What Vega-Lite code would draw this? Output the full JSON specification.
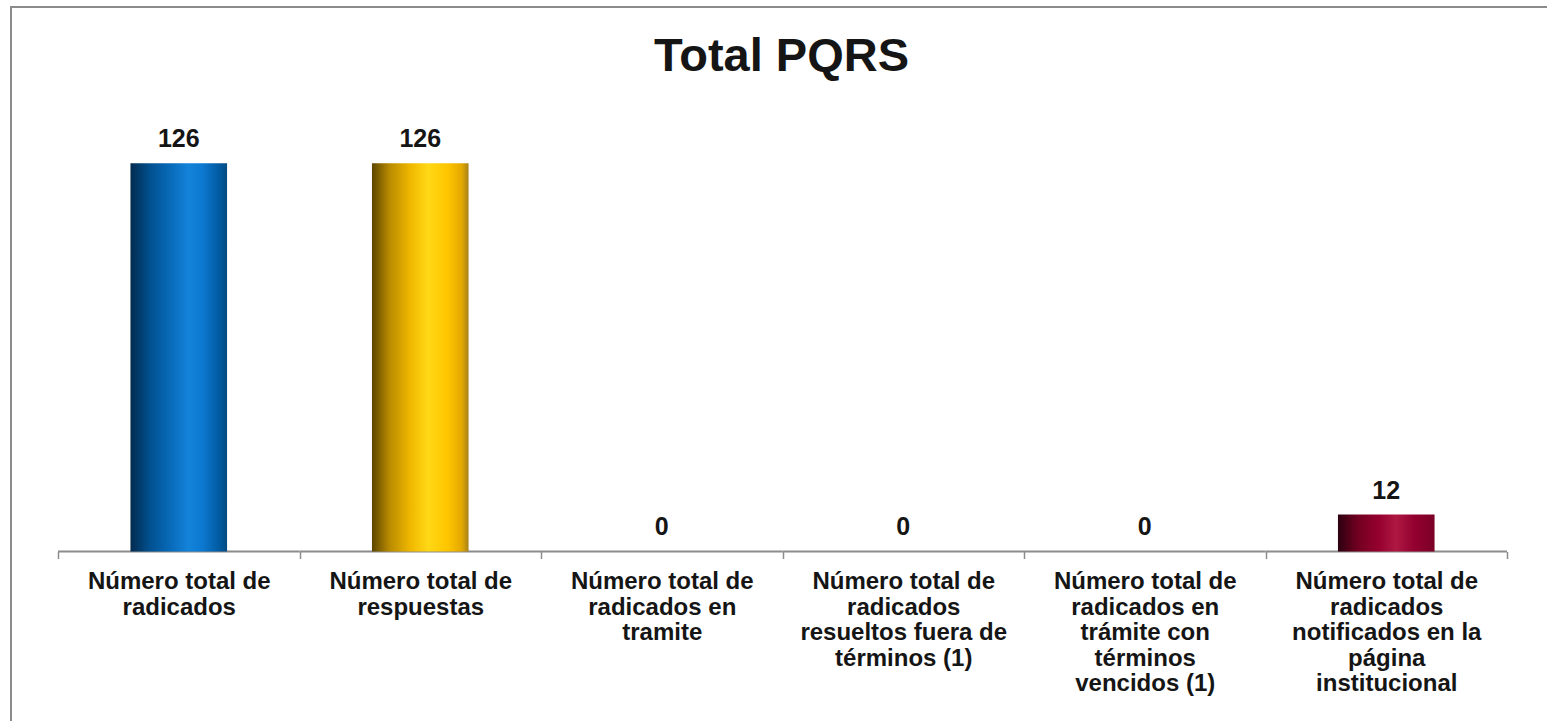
{
  "$schema": "https://vega.github.io/schema/vega-lite/v6.json",
  "autosize": {"type": "none"},
  "width": 1541,
  "height": 720,
  "padding": {"left": 11, "top": 7, "right": -5, "bottom": -6},
  "background": "white",
  "config": {
    "view": {"stroke": "#8c8c8c", "strokeWidth": 2},
    "font": "Liberation Sans"
  },
  "title": {
    "text": "Total PQRS",
    "font": "Liberation Sans",
    "fontSize": 47,
    "fontWeight": "bold",
    "color": "#151515",
    "anchor": "middle",
    "frame": "group",
    "baseline": "alphabetic",
    "offset": -111,
    "dx": 0
  },
  "data": {
    "values": [
      {"categoria": "Número total de|radicados", "valor": 126, "grupo": "azul"},
      {"categoria": "Número total de|respuestas", "valor": 126, "grupo": "amarillo"},
      {"categoria": "Número total de|radicados en|tramite", "valor": 0, "grupo": "ninguno"},
      {"categoria": "Número total de|radicados|resueltos fuera de|términos (1)", "valor": 0, "grupo": "ninguno"},
      {"categoria": "Número total de|radicados en|trámite con|términos|vencidos (1)", "valor": 0, "grupo": "ninguno"},
      {"categoria": "Número total de|radicados|notificados en la|página|institucional", "valor": 12, "grupo": "rojo"}
    ]
  },
  "encoding": {
    "x": {
      "field": "categoria",
      "type": "nominal",
      "sort": null,
      "scale": {"paddingInner": 0, "paddingOuter": 0.1905, "align": 0.511},
      "axis": {
        "orient": "bottom",
        "offset": -175.5,
        "title": null,
        "domain": false,
        "tickBand": "extent",
        "ticks": true,
        "tickSize": 7,
        "tickColor": "#8c8c8c",
        "tickWidth": 1.5,
        "labelAngle": 0,
        "labelExpr": "split(datum.label, '|')",
        "labelFont": "Liberation Sans",
        "labelFontWeight": "bold",
        "labelFontSize": 24,
        "labelLineHeight": 25.5,
        "labelColor": "#151515",
        "labelPadding": 11,
        "labelLimit": 400,
        "labelOverlap": false,
        "labelBound": false,
        "labelFlush": false,
        "grid": false
      }
    },
    "y": {
      "field": "valor",
      "type": "quantitative",
      "scale": {"domain": [-56.96, 176.7], "nice": false, "zero": false},
      "axis": null
    }
  },
  "layer": [
    {
      "mark": {"type": "rule", "color": "#8c8c8c", "strokeWidth": 2},
      "encoding": {
        "x": {"field": "categoria", "type": "nominal", "sort": null, "bandPosition": 0},
        "x2": {"field": "categoria", "bandPosition": 1},
        "y": {"datum": 0}
      }
    },
    {
      "transform": [{"filter": "datum.grupo === 'azul'"}],
      "mark": {
        "type": "bar",
        "width": {"band": 0.4},
        "color": {
          "gradient": "linear", "x1": 0, "x2": 1, "y1": 0, "y2": 0,
          "stops": [
            {"offset": 0, "color": "#032a4e"},
            {"offset": 0.2, "color": "#00508f"},
            {"offset": 0.45, "color": "#0a6fc0"},
            {"offset": 0.6, "color": "#1383da"},
            {"offset": 0.75, "color": "#0c78cf"},
            {"offset": 0.92, "color": "#025aa0"},
            {"offset": 1, "color": "#044a80"}
          ]
        }
      },
      "encoding": {"y2": {"datum": 0}}
    },
    {
      "transform": [{"filter": "datum.grupo === 'amarillo'"}],
      "mark": {
        "type": "bar",
        "width": {"band": 0.4},
        "color": {
          "gradient": "linear", "x1": 0, "x2": 1, "y1": 0, "y2": 0,
          "stops": [
            {"offset": 0, "color": "#5c4500"},
            {"offset": 0.18, "color": "#b88a00"},
            {"offset": 0.4, "color": "#f0b800"},
            {"offset": 0.58, "color": "#ffd816"},
            {"offset": 0.78, "color": "#ffc600"},
            {"offset": 0.93, "color": "#e3a800"},
            {"offset": 1, "color": "#a8821a"}
          ]
        }
      },
      "encoding": {"y2": {"datum": 0}}
    },
    {
      "transform": [{"filter": "datum.grupo === 'rojo'"}],
      "mark": {
        "type": "bar",
        "width": {"band": 0.4},
        "color": {
          "gradient": "linear", "x1": 0, "x2": 1, "y1": 0, "y2": 0,
          "stops": [
            {"offset": 0, "color": "#2c0010"},
            {"offset": 0.2, "color": "#700020"},
            {"offset": 0.42, "color": "#96002e"},
            {"offset": 0.6, "color": "#ae1842"},
            {"offset": 0.8, "color": "#920030"},
            {"offset": 1, "color": "#7a0026"}
          ]
        }
      },
      "encoding": {"y2": {"datum": 0}}
    },
    {
      "mark": {
        "type": "text",
        "font": "Liberation Sans",
        "fontSize": 25,
        "fontWeight": "bold",
        "color": "#151515",
        "baseline": "alphabetic",
        "dy": -16
      },
      "encoding": {"text": {"field": "valor", "type": "quantitative"}}
    }
  ]
}
